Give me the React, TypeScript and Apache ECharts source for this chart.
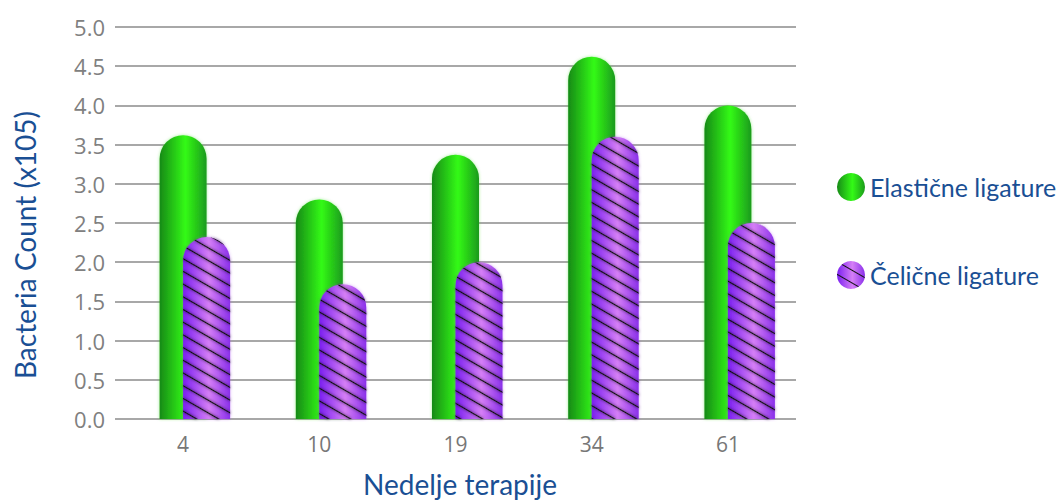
import React, { useEffect, useRef } from "react";
import * as echarts from "echarts";

const categories = ["4", "10", "19", "34", "61"];
const elasticValues = [3.62, 2.8, 3.37, 4.62, 4.0];
const steelValues = [2.32, 1.72, 2.0, 3.6, 2.5];
const placeholder = ["-", "-", "-", "-", "-"];
const seriesNames = ["Elastične ligature", "Čelične ligature"];
const yTitle = "Bacteria Count (x105)";
const xTitle = "Nedelje terapije";

const greenGrad = new echarts.graphic.LinearGradient(0, 0, 1, 0, [
  { offset: 0, color: "#178a17" },
  { offset: 0.55, color: "#33fa16" },
  { offset: 1, color: "#1c9a1c" },
]);
const purpleGrad = new echarts.graphic.LinearGradient(0, 0, 1, 0, [
  { offset: 0, color: "#7a1ff0" },
  { offset: 0.55, color: "#d57ef6" },
  { offset: 1, color: "#8a30ea" },
]);

export default function App() {
  const ref = useRef<HTMLDivElement>(null);
  useEffect(() => {
    document.body.style.margin = "0";
    if (!ref.current) return;
    const chart = echarts.init(ref.current, undefined, { renderer: "svg" });
    chart.setOption({
      animation: false,
      backgroundColor: "#ffffff",
      grid: { left: 115, right: 266, top: 27, bottom: 83 },
      legend: {
        data: seriesNames,
        orient: "vertical",
        left: 832,
        top: 168,
        icon: "circle",
        itemWidth: 28,
        itemHeight: 28,
        itemGap: 60,
        textStyle: { fontFamily: "Lato", fontSize: 25, color: "#1a4f94" },
      },
      graphic: [
        {
          type: "text",
          x: 25,
          y: 245,
          rotation: Math.PI / 2,
          style: {
            text: yTitle,
            fontFamily: "Lato",
            fontSize: 28,
            fill: "#1a4f94",
            align: "center",
            verticalAlign: "middle",
          },
        },
      ],
      xAxis: {
        type: "category",
        data: categories,
        axisLine: { show: false },
        axisTick: { show: false },
        axisLabel: { fontFamily: "Open Sans", fontSize: 21, color: "#777", margin: 14 },
        name: xTitle,
        nameLocation: "middle",
        nameGap: 51,
        nameTextStyle: { fontFamily: "Lato", fontSize: 28, color: "#1a4f94", padding: [0, 0, 0, 9] },
      },
      yAxis: {
        type: "value",
        min: 0,
        max: 5,
        interval: 0.5,
        axisLabel: {
          fontFamily: "Open Sans",
          fontSize: 22,
          color: "#808080",
          margin: 10,
          formatter: (v: number) => v.toFixed(1),
        },
        splitLine: { lineStyle: { color: "#a8a8a8", width: 2 } },
      },
      series: [
        {
          type: "bar",
          name: "_",
          data: placeholder,
          barWidth: 47,
          barGap: "-50%",
        },
        {
          type: "bar",
          name: seriesNames[0],
          data: elasticValues,
          barWidth: 47,
          barGap: "-50%",
          itemStyle: {
            color: greenGrad,
            borderRadius: [24, 24, 0, 0],
            shadowColor: "rgba(60,220,40,0.5)",
            shadowBlur: 3,
          },
          z: 2,
        },
        {
          type: "bar",
          name: seriesNames[1],
          data: steelValues,
          barWidth: 47,
          barGap: "-50%",
          itemStyle: {
            color: purpleGrad,
            borderRadius: [24, 24, 0, 0],
            shadowColor: "rgba(170,80,240,0.5)",
            shadowBlur: 3,
            decal: {
              symbol: "rect",
              symbolSize: 1,
              color: "#111",
              dashArrayX: [1, 0],
              dashArrayY: [1, 10],
              rotation: Math.PI / 6,
            },
          },
          z: 3,
        },
      ],
    });
    return () => chart.dispose();
  }, []);
  return <div ref={ref} style={{ width: 1062, height: 503 }} />;
}
